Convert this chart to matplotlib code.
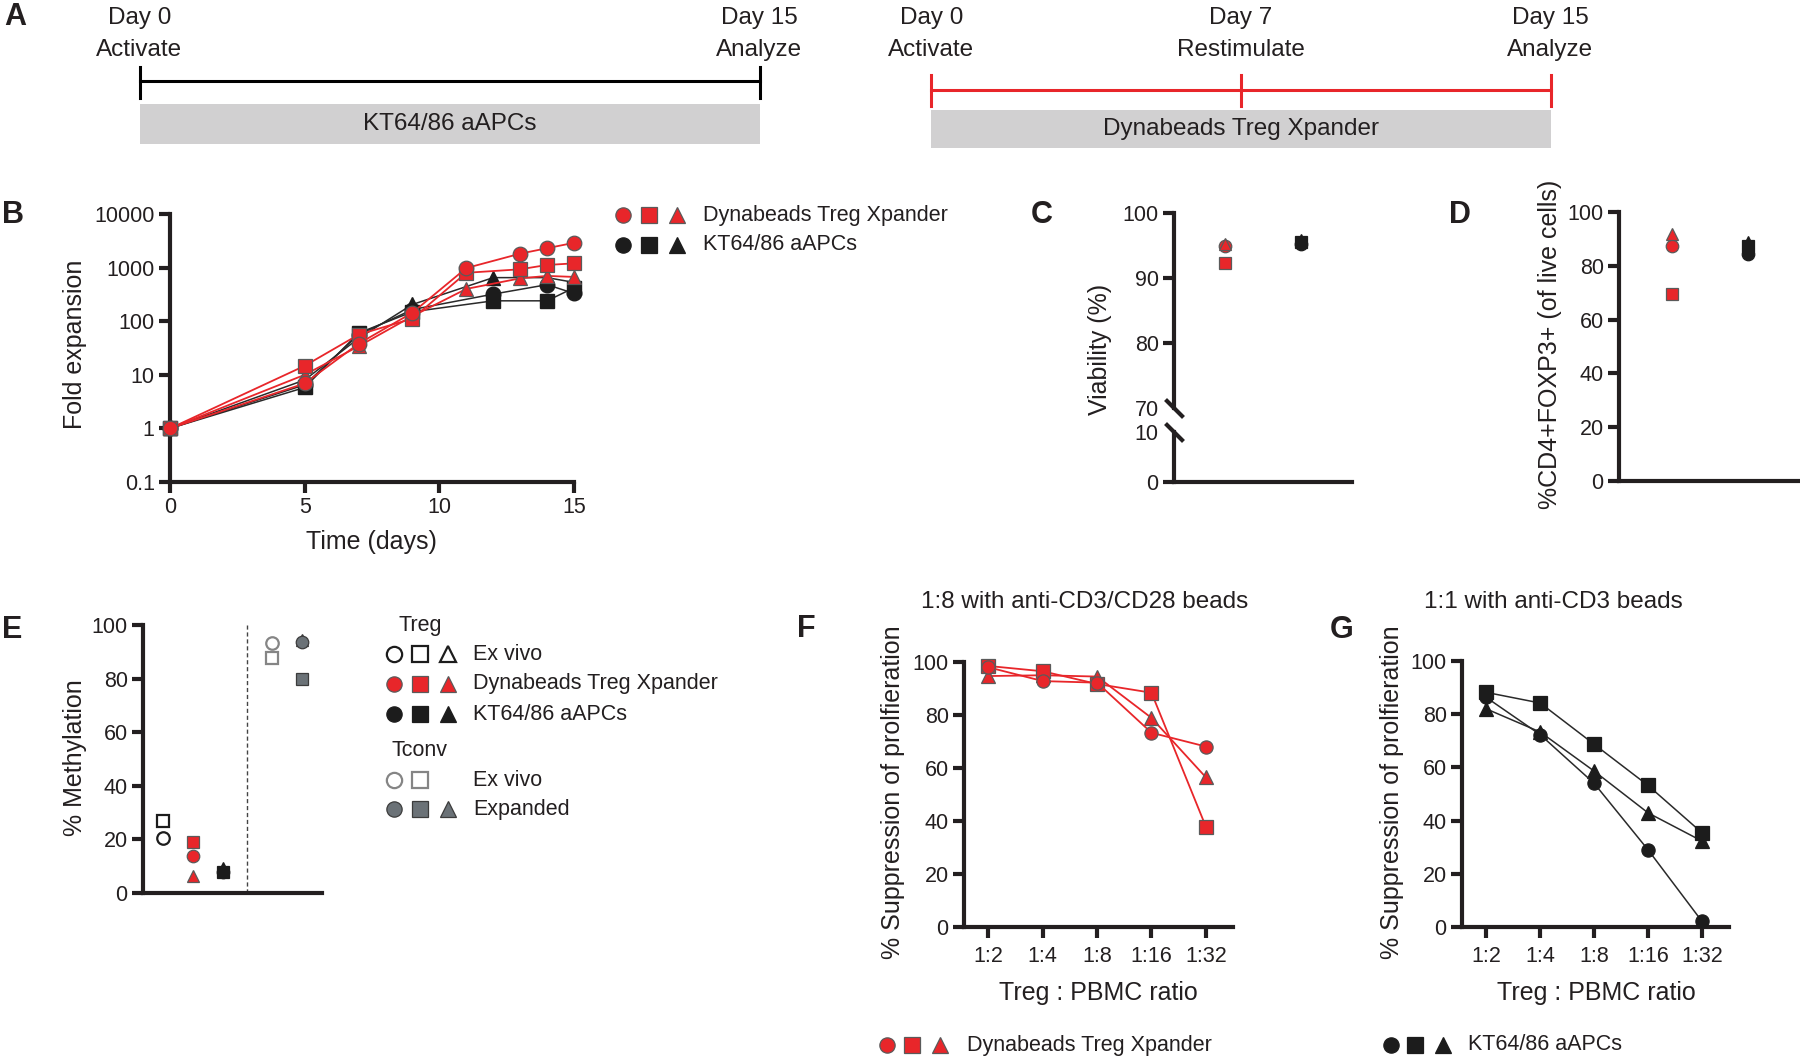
import matplotlib
matplotlib.use('Agg')
import matplotlib.pyplot as plt
from matplotlib.ticker import NullLocator

# ---------------- data ----------------
# Panel A (schematic timelines)
tl_left_labels = ['Day 0\nActivate', 'Day 15\nAnalyze']
tl_left_bar = 'KT64/86 aAPCs'
tl_right_labels = ['Day 0\nActivate', 'Day 7\nRestimulate', 'Day 15\nAnalyze']
tl_right_bar = 'Dynabeads Treg Xpander'

# Panel B: fold expansion
days_red = [0, 5, 7, 9, 11, 13, 14, 15]
b_red_circle = [1, 6.9, 38, 144, 980, 1820, 2300, 2900]
b_red_square = [1, 14.7, 56, 112, 800, 930, 1120, 1200]
b_red_tri = [1, 10, 34, 124, 400, 630, 700, 670]
days_blk = [0, 5, 7, 9, 12, 14, 15]
b_blk_circle = [1, 6.5, 56, 165, 320, 480, 330]
b_blk_square = [1, 5.8, 60, 150, 240, 240, 420]
b_blk_tri = [1, 8, 48, 205, 650, 650, 530]
b_yticks = [0.1, 1, 10, 100, 1000, 10000]
b_yticklabels = ['0.1', '1', '10', '100', '1000', '10000']
b_xticks = [0, 5, 10, 15]

# Panel C: viability (%)
c_red = {'o': 95.0, 's': 92.3, '^': 95.3}
c_blk = {'o': 95.2, 's': 95.5, '^': 95.8}

# Panel D: %CD4+FOXP3+
d_red = {'o': 87.2, 's': 69.6, '^': 91.9}
d_blk = {'o': 84.5, 's': 87.5, '^': 88.8}

# Panel E: % methylation
e_treg_exvivo = {'o': 20.6, 's': 27.0}
e_treg_dyna = {'o': 13.9, 's': 18.9, '^': 6.5}
e_treg_kt = {'o': 8.0, 's': 7.8, '^': 9.5}
e_tconv_exvivo = {'o': 93.2, 's': 87.6}
e_tconv_exp = {'^': 94.5, 'o': 93.8, 's': 79.9}

# Panels F, G: suppression
ratios = ['1:2', '1:4', '1:8', '1:16', '1:32']
f_circle = [98.0, 92.8, 92.2, 73.3, 68.1]
f_square = [98.5, 96.5, 91.7, 88.4, 37.9]
f_tri = [94.7, 95.0, 94.5, 78.9, 56.5]
g_circle = [86.3, 72.3, 54.0, 29.0, 2.1]
g_square = [88.2, 84.2, 68.7, 53.2, 35.4]
g_tri = [82.0, 73.3, 58.6, 42.9, 32.3]

# ---------------- style ----------------
W, H = 1800, 1057
plt.rcParams['font.family'] = ['Liberation Sans', 'DejaVu Sans']
RED = '#E8262A'
REDEDGE = '#5a5a5a'
BLK = '#1c1c1c'
GRAYF = '#6b7277'
GRAYL = '#858585'
TXT = '#231f20'
TICKFS = 15.5
LABFS = 18
LETFS = 22

fig = plt.figure(figsize=(18, 10.57), dpi=100)


def box(l, t, r, b):
    return fig.add_axes([l / W, 1 - b / H, (r - l) / W, (b - t) / H])


ov = fig.add_axes([0, 0, 1, 1], zorder=-1)
ov.set_xlim(0, W)
ov.set_ylim(H, 0)
ov.axis('off')


def style(ax):
    for s in ['top', 'right']:
        ax.spines[s].set_visible(False)
    for s in ['left', 'bottom']:
        ax.spines[s].set_linewidth(3)
        ax.spines[s].set_color(TXT)
    ax.tick_params(width=3, length=8, labelsize=TICKFS, color=TXT,
                   labelcolor=TXT, pad=3)
    ax.patch.set_alpha(0)


def txt(x, y, s, size=LABFS, **kw):
    kw.setdefault('ha', 'center')
    kw.setdefault('va', 'center')
    ov.text(x, y, s, fontsize=size, color=TXT, **kw)


def letter(x, y, s):
    ov.text(x, y, s, fontsize=LETFS, fontweight='bold', color=TXT,
            ha='left', va='center')


def mk(ax, x, y, m, face, edge, ms=9, ew=0.9, z=3):
    ax.plot([x], [y], marker=m, ms=ms, mfc=face, mec=edge, mew=ew,
            ls='none', clip_on=False, zorder=z)


# ---------------- Panel A ----------------
letter(4, 17, 'A')


def timeline(ax, xs, labels, bar, color, yline, ytick, ybar):
    ax.set_xlim(0, 1)
    ax.set_ylim(155, 0)
    ax.axis('off')
    ax.plot([xs[0], xs[-1]], [yline, yline], color=color, lw=2.2, clip_on=False)
    for xx, lab in zip(xs, labels):
        ax.plot([xx, xx], ytick, color=color, lw=2.2, clip_on=False)
        ax.text(xx, 34, lab, fontsize=17.5, color=TXT, ha='center', va='center',
                linespacing=1.55)
    ax.add_patch(plt.Rectangle((0, ybar[0]), 1, ybar[1] - ybar[0],
                               color='#d1d0d1', lw=0))
    ax.text(0.5, (ybar[0] + ybar[1]) / 2, bar, fontsize=17.5, color=TXT,
            ha='center', va='center')


axA1 = box(139.5, 0, 759.5, 155)
timeline(axA1, [0, 1], tl_left_labels, tl_left_bar, 'black', 81, [67, 98],
         [104, 143.5])
axA2 = box(931.5, 0, 1550.5, 155)
timeline(axA2, [0, 0.5, 1], tl_right_labels, tl_right_bar, RED, 90, [75, 106],
         [110, 148])

# ---------------- Panel B ----------------
letter(2, 215, 'B')
axB = box(170, 214, 574, 482)
style(axB)
axB.set_yscale('log')
axB.set_ylim(0.1, 10000)
axB.set_xlim(0, 15)
axB.set_yticks(b_yticks)
axB.set_yticklabels(b_yticklabels)
axB.yaxis.set_minor_locator(NullLocator())
axB.set_xticks(b_xticks)
for ys, m in [(b_blk_circle, 'o'), (b_blk_square, 's'), (b_blk_tri, '^')]:
    axB.plot(days_blk, ys, color='#2a2a2a', lw=1.1, marker=m, ms=10.5,
             mfc=BLK, mec=BLK, clip_on=False, zorder=3)
for ys, m in [(b_red_tri, '^'), (b_red_square, 's'), (b_red_circle, 'o')]:
    axB.plot(days_red, ys, color=RED, lw=1.3, marker=m, ms=10.5,
             mfc=RED, mec=REDEDGE, mew=0.9, clip_on=False, zorder=4)
txt(75, 344, 'Fold expansion', rotation=90)
txt(371, 542, 'Time (days)')
# legend B
for xx, m in zip([623, 649, 677], ['o', 's', '^']):
    mk(ov, xx, 215, m, RED, REDEDGE, ms=11)
    mk(ov, xx, 245, m, BLK, BLK, ms=11)
txt(703, 215, 'Dynabeads Treg Xpander', size=15.5, ha='left')
txt(703, 245, 'KT64/86 aAPCs', size=15.5, ha='left')

# ---------------- Panel C ----------------
letter(1031, 215, 'C')
xl = (-0.67, 1.67)
axCu = box(1174, 213, 1352, 408)
style(axCu)
axCu.set_ylim(70, 100)
axCu.set_xlim(*xl)
axCu.set_yticks([70, 80, 90, 100])
axCu.spines['bottom'].set_visible(False)
axCu.set_xticks([])
axCu.yaxis.get_major_ticks()[0].tick1line.set_visible(False)
axCl = box(1174, 432, 1352, 482)
style(axCl)
axCl.set_ylim(0, 10)
axCl.set_xlim(*xl)
axCl.set_yticks([0, 10])
axCl.set_xticks([])
axCl.yaxis.get_major_ticks()[1].tick1line.set_visible(False)
ov.plot([1167, 1182], [401, 416], color=TXT, lw=3)
ov.plot([1167, 1182], [425, 440], color=TXT, lw=3)
for m in ['o', 's', '^']:
    mk(axCu, 0, c_red[m], m, RED, REDEDGE, ms=9)
for m in ['o', 's', '^']:
    mk(axCu, 1, c_blk[m], m, BLK, BLK, ms=9)
txt(1100, 349, 'Viability (%)', rotation=90)

# ---------------- Panel D ----------------
letter(1449, 215, 'D')
axD = box(1619, 212, 1800, 481)
style(axD)
axD.set_ylim(0, 100)
axD.set_xlim(-0.70, 1.68)
axD.set_yticks([0, 20, 40, 60, 80, 100])
axD.set_xticks([])
for m in ['o', 's', '^']:
    mk(axD, 0, d_red[m], m, RED, REDEDGE, ms=9)
for m in ['o', 's', '^']:
    mk(axD, 1, d_blk[m], m, BLK, BLK, ms=9)
txt(1550, 344, '%CD4+FOXP3+ (of live cells)', rotation=90)

# ---------------- Panel E ----------------
letter(2, 630, 'E')
axE = box(143, 625, 322, 893)
style(axE)
axE.set_ylim(0, 100)
axE.set_xlim(-0.66, 5.31)
axE.set_yticks([0, 20, 40, 60, 80, 100])
axE.set_xticks([])
e_pos = [0, 1, 2, 3.65, 4.65]
axE.axvline(2.8, color='#444444', lw=1, ls=(0, (3, 2)), ymax=1.0)
for m, v in e_treg_exvivo.items():
    mk(axE, e_pos[0], v, m, 'white', BLK, ms=9, ew=1.6)
for m, v in e_treg_dyna.items():
    mk(axE, e_pos[1], v, m, RED, REDEDGE, ms=9)
for m, v in e_treg_kt.items():
    mk(axE, e_pos[2], v, m, BLK, BLK, ms=9)
for m, v in e_tconv_exvivo.items():
    mk(axE, e_pos[3], v, m, 'white', GRAYL, ms=9, ew=1.6)
for m, v in e_tconv_exp.items():
    mk(axE, e_pos[4], v, m, GRAYF, '#3c3c3c', ms=9)
txt(75, 758, '% Methylation', rotation=90)
# legend E
txt(420, 625, 'Treg', size=15.5)
txt(420, 750, 'Tconv', size=15.5)
lx = [394, 420, 448]
rows = [(654, 'Ex vivo', 'white', BLK, 1.6, ['o', 's', '^']),
        (684, 'Dynabeads Treg Xpander', RED, REDEDGE, 0.9, ['o', 's', '^']),
        (714, 'KT64/86 aAPCs', BLK, BLK, 0.9, ['o', 's', '^']),
        (780, 'Ex vivo', 'white', GRAYL, 1.6, ['o', 's']),
        (809, 'Expanded', GRAYF, '#3c3c3c', 0.9, ['o', 's', '^'])]
for y, lab, fc, ec, ew, ms_ in rows:
    for xx, m in zip(lx, ms_):
        mk(ov, xx, y, m, fc, ec, ms=11, ew=ew)
    txt(473, y, lab, size=15.5, ha='left')


# ---------------- Panels F, G ----------------
def supp(ax, series, face, edge, lc, lw):
    style(ax)
    ax.set_ylim(0, 100)
    ax.set_xlim(-0.45, 4.5)
    ax.set_yticks([0, 20, 40, 60, 80, 100])
    ax.set_xticks(range(len(ratios)))
    ax.set_xticklabels(ratios)
    ax.tick_params(axis='x', pad=6)
    for ys, m in series:
        ax.plot(range(len(ratios)), ys, color=lc, lw=lw, marker=m, ms=9.5,
                mfc=face, mec=edge, mew=0.9, clip_on=False, zorder=3)


letter(797, 629, 'F')
axF = box(964, 662, 1233, 927)
supp(axF, [(f_tri, '^'), (f_square, 's'), (f_circle, 'o')], RED, REDEDGE, RED, 1.3)
txt(1085, 602, '1:8 with anti-CD3/CD28 beads', size=17.5)
txt(1098, 993, 'Treg : PBMC ratio')
txt(893, 792, '% Suppression of prolfieration', rotation=90)
for xx, m in zip([887, 912, 940], ['o', 's', '^']):
    mk(ov, xx, 1045, m, RED, REDEDGE, ms=11)
txt(967, 1045, 'Dynabeads Treg Xpander', size=15.5, ha='left')

letter(1330, 630, 'G')
axG = box(1462, 661, 1729, 927)
supp(axG, [(g_tri, '^'), (g_square, 's'), (g_circle, 'o')], BLK, BLK, '#2a2a2a', 1.1)
txt(1553, 602, '1:1 with anti-CD3 beads', size=17.5)
txt(1596, 993, 'Treg : PBMC ratio')
txt(1392, 792, '% Suppression of prolfieration', rotation=90)
for xx, m in zip([1391, 1415, 1443], ['o', 's', '^']):
    mk(ov, xx, 1045, m, BLK, BLK, ms=11)
txt(1468, 1045, 'KT64/86 aAPCs', size=15.5, ha='left')

fig.savefig('out.png', dpi=100)
